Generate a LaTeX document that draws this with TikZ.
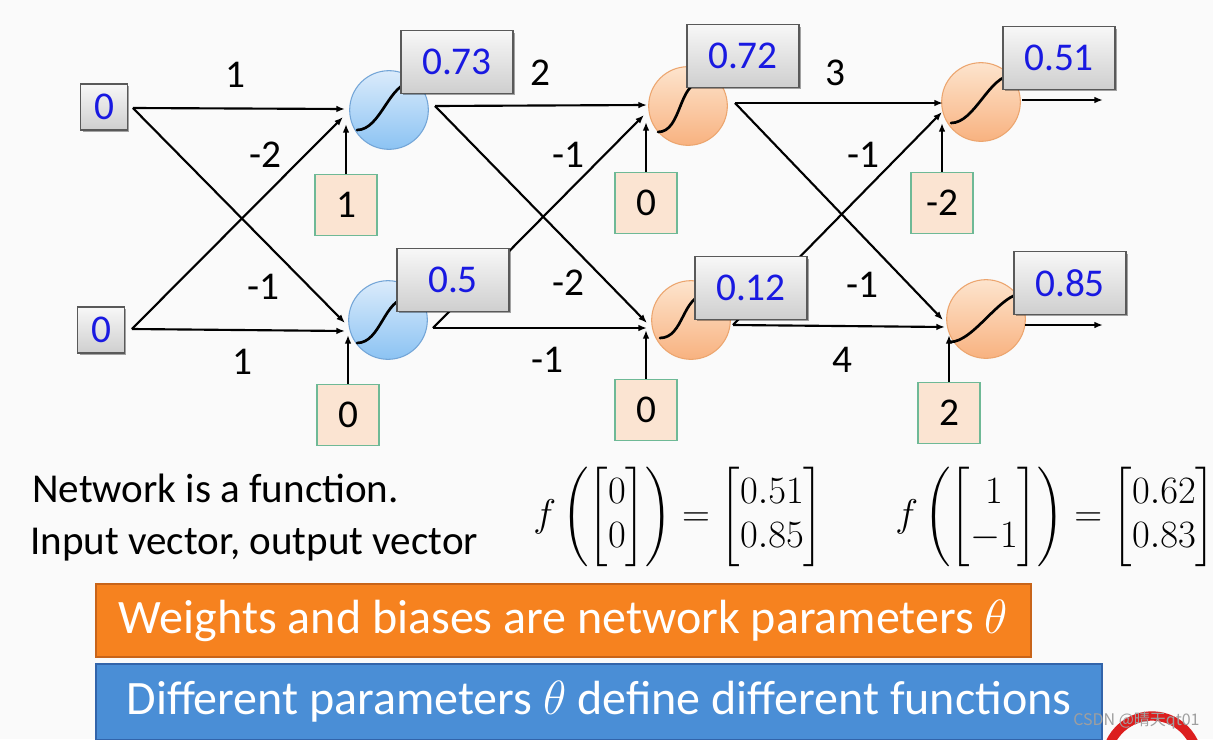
\documentclass[tikz,border=0pt]{standalone}
\usepackage{fix-cm}
\usepackage{amsmath}
\usepackage[no-math]{fontspec}
\setmainfont{Carlito}
\newfontfamily\cjkfont{Noto Sans CJK SC}
\usetikzlibrary{calc,arrows.meta,shadows}
\definecolor{tblue}{RGB}{25,25,225}
\definecolor{bgc}{RGB}{250,250,250}
\definecolor{nbtop}{RGB}{218,235,251}
\definecolor{nbbot}{RGB}{140,195,243}
\definecolor{nbbd}{RGB}{115,165,215}
\definecolor{notop}{RGB}{253,228,205}
\definecolor{nobot}{RGB}{248,178,128}
\definecolor{nobd}{RGB}{236,165,110}
\definecolor{peach}{RGB}{251,228,210}
\definecolor{biasbd}{RGB}{110,185,150}
\definecolor{obar}{RGB}{246,130,31}
\definecolor{obarbd}{RGB}{200,100,25}
\definecolor{bbar}{RGB}{74,142,214}
\definecolor{bbarbd}{RGB}{50,100,170}
\definecolor{logored}{RGB}{220,30,30}
\newcommand\fnode{\fontsize{29.5}{35}\selectfont}
\newcommand\ftext{\fontsize{30.8}{36}\selectfont}
\newcommand\fbar{\fontsize{36}{42}\selectfont}
\newcommand\fmath{\fontsize{29}{33}\selectfont}
\newcommand\sigm[5]{\draw[sigline] ($(#1)+(#2,#3)$) .. controls +(24,0) and +(-24,0) .. ($(#1)+(#4,#5)$);}
\begin{document}
\begin{tikzpicture}[x=0.75pt,y=-0.75pt,
  gbox/.style={draw=black!65, line width=0.8pt, top color=gray!6, bottom color=gray!38,
    drop shadow={shadow xshift=1.5pt, shadow yshift=-1.5pt, opacity=0.35, fill=black},
    text=tblue, font=\fnode, inner sep=0pt},
  outbox/.style={gbox, minimum width=84pt, minimum height=47pt},
  inbox/.style={gbox, minimum width=35pt, minimum height=34.5pt},
  biasbox/.style={draw=biasbd, line width=1pt, fill=peach, text=black, font=\fnode,
    inner sep=0pt, minimum width=46.5pt, minimum height=45.75pt},
  bneuron/.style={circle, draw=nbbd, line width=0.8pt, top color=nbtop, bottom color=nbbot,
    minimum size=59pt, inner sep=0pt},
  oneuron/.style={circle, draw=nobd, line width=0.8pt, top color=notop, bottom color=nobot,
    minimum size=59pt, inner sep=0pt},
  sigline/.style={line width=2pt, black, line cap=round},
  conn/.style={line width=1.6pt, black, -{Latex[length=6.5pt,width=5pt]}},
  wlabel/.style={font=\fnode, inner sep=0pt, text=black},
  bartext/.style={font=\fbar, text=white, inner sep=0pt}
]
\useasboundingbox (0,0) rectangle (1213,739);
\clip (0,0) rectangle (1213,739);
\fill[bgc] (0,0) rectangle (1213,739);

% inputs
\node[inbox] (x1) at (104,107) {0};
\node[inbox] (x2) at (101,330) {0};

% neurons
\node[bneuron] (n1) at (389,110) {};
\node[bneuron] (n2) at (388,320) {};
\node[oneuron] (n3) at (688,106) {};
\node[oneuron] (n4) at (691,320) {};
\node[oneuron] (n5) at (981,102) {};
\node[oneuron] (n6) at (986,319) {};

% biases
\node[biasbox] (c1) at (346,205) {1};
\node[biasbox] (c2) at (348,415) {0};
\node[biasbox] (c3) at (646,203) {0};
\node[biasbox] (c4) at (646,410) {0};
\node[biasbox] (c5) at (942,203) {-2};
\node[biasbox] (c6) at (949,413) {2};

% sigmoid curves
\sigm{n1}{-32}{20}{24}{-28}
\sigm{n2}{-31}{23}{20}{-22}
\sigm{n3}{-30}{26}{14}{-24}
\sigm{n4}{-31}{18}{15}{-25}
\sigm{n5}{-30}{21}{32}{-27}
\sigm{n6}{-36}{23}{38}{-26}

% ports
\coordinate (x1o) at ($(x1.east)+(5,1)$);
\coordinate (x2o) at ($(x2.east)+(7,-1)$);
\coordinate (n1o) at ($(n1)+(46,-4)$);
\coordinate (n2o) at ($(n2)+(45,8)$);
\coordinate (n3o) at ($(n3)+(47,-3)$);
\coordinate (n4o) at ($(n4)+(42,5)$);
\coordinate (n5o) at ($(n5)+(41,-2)$);
\coordinate (n6o) at ($(n6)+(39,6)$);
\coordinate (n5e) at (1103,100);
\coordinate (n6e) at (1103,325);

\coordinate (n1h) at ($(n1)+(-44,-1)$);
\coordinate (n1d) at ($(n1)+(-46,7)$);
\coordinate (n1b) at ($(n1)+(-42,14)$);
\coordinate (n2d) at ($(n2)+(-43,3)$);
\coordinate (n2h) at ($(n2)+(-43,11)$);
\coordinate (n2b) at ($(n2)+(-41,15)$);
\coordinate (n3h) at ($(n3)+(-41,-1)$);
\coordinate (n3d) at ($(n3)+(-44,9)$);
\coordinate (n3b) at ($(n3)+(-42,16)$);
\coordinate (n4d) at ($(n4)+(-44,3)$);
\coordinate (n4h) at ($(n4)+(-44,8)$);
\coordinate (n4b) at ($(n4)+(-45,10)$);
\coordinate (n5h) at ($(n5)+(-38,1)$);
\coordinate (n5d) at ($(n5)+(-39,10)$);
\coordinate (n5b) at ($(n5)+(-39,21)$);
\coordinate (n6d) at ($(n6)+(-43,1)$);
\coordinate (n6h) at ($(n6)+(-41,8)$);
\coordinate (n6b) at ($(n6)+(-37,16)$);

% connections
\draw[conn] (x1o) -- (n1h);
\draw[conn] (x1o) -- (n2d);
\draw[conn] (x2o) -- (n1d);
\draw[conn] (x2o) -- (n2h);
\draw[conn] (n1o) -- (n3h);
\draw[conn] (n1o) -- (n4d);
\draw[conn] (n2o) -- (n3d);
\draw[conn] (n2o) -- (n4h);
\draw[conn] (n3o) -- (n5h);
\draw[conn] (n3o) -- (n6d);
\draw[conn] (n4o) -- (n5d);
\draw[conn] (n4o) -- (n6h);
\draw[conn] (n5o) -- (n5e);
\draw[conn] (n6o) -- (n6e);
\draw[conn] (c1.north) -- (c1.north |- n1b);
\draw[conn] (c2.north) -- (c2.north |- n2b);
\draw[conn] (c3.north) -- (c3.north |- n3b);
\draw[conn] (c4.north) -- (c4.north |- n4b);
\draw[conn] (c5.north) -- (c5.north |- n5b);
\draw[conn] (c6.north) -- (c6.north |- n6b);

% output boxes
\node[outbox] (b1) at (457,62) {0.73};
\node[outbox] (b2) at (453,280) {0.5};
\node[outbox] (b3) at (743,56) {0.72};
\node[outbox] (b4) at (751,288) {0.12};
\node[outbox] (b5) at (1059,58) {0.51};
\node[outbox] (b6) at (1070,283) {0.85};

% weights
\node[wlabel] (w1) at (235,75) {1};
\node[wlabel] (w2) at (265,155) {-2};
\node[wlabel] (w3) at (263,287) {-1};
\node[wlabel] (w4) at (242,362) {1};
\node[wlabel] (w5) at (540,73) {2};
\node[wlabel] (w6) at (568,155) {-1};
\node[wlabel] (w7) at (568,283) {-2};
\node[wlabel] (w8) at (547,360) {-1};
\node[wlabel] (w9) at (835,73) {3};
\node[wlabel] (w10) at (863,155) {-1};
\node[wlabel] (w11) at (862,285) {-1};
\node[wlabel] (w12) at (842,360) {4};

% text
\node[font=\ftext, anchor=base west, inner sep=0pt] (t1) at (32,502) {Network is a function.};
\node[font=\ftext, anchor=base west, inner sep=0pt] (t2) at (30,554) {Input vector, output vector};
\node[font=\fmath, anchor=west, inner sep=0pt] (m1) at (533,517)
  {$f\left(\begin{bmatrix}0\\0\end{bmatrix}\right)=\begin{bmatrix}0.51\\0.85\end{bmatrix}$};
\node[font=\fmath, anchor=west, inner sep=0pt] (m2) at (895,517)
  {$f\left(\begin{bmatrix}1\\-1\end{bmatrix}\right)=\begin{bmatrix}0.62\\0.83\end{bmatrix}$};

% bars
\node[draw=obarbd, fill=obar, line width=0.8pt, minimum width=701.25pt, minimum height=54.75pt,
  bartext] (bar1) at (563.5,620.5) {Weights and biases are network parameters $\theta$};
\node[draw=bbarbd, fill=bbar, line width=0.8pt, minimum width=754.5pt, minimum height=57pt,
  bartext] (bar2) at (599,702) {Different parameters $\theta$ define different functions};

% watermark and logo
\draw[logored, line width=7pt] (1152,762) ++(200:46) arc[start angle=200, end angle=340, radius=46];
\node[font=\cjkfont\fontsize{12}{14}\selectfont, text=gray!75, anchor=base west, inner sep=0pt]
  (wm) at (1073,725) {CSDN @晴天qt01};
\end{tikzpicture}
\end{document}
